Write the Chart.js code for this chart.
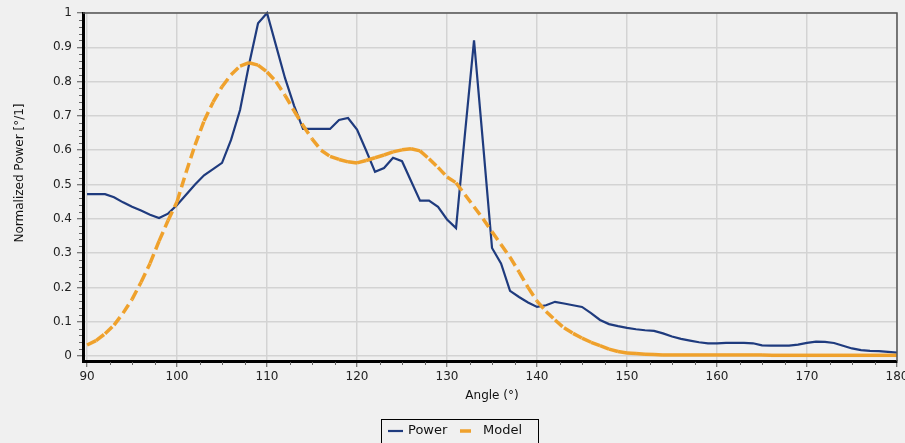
<!DOCTYPE html>
<html>
<head>
<meta charset="utf-8">
<script src="https://cdn.jsdelivr.net/npm/chart.js@4"></script>
<style>
    html, body { margin: 0; padding: 0; background: #f0f0f0; }
    #wrap { width: 905px; height: 443px; }
</style>
</head>
<body>
<div id="wrap"><canvas id="chart" width="905" height="443"></canvas></div>
<script>
// Angles (deg), one point per degree
const angles = [
    90, 91, 92, 93, 94, 95, 96, 97, 98, 99,
    100, 101, 102, 103, 104, 105, 106, 107, 108, 109,
    110, 111, 112, 113, 114, 115, 116, 117, 118, 119,
    120, 121, 122, 123, 124, 125, 126, 127, 128, 129,
    130, 131, 132, 133, 134, 135, 136, 137, 138, 139,
    140, 141, 142, 143, 144, 145, 146, 147, 148, 149,
    150, 151, 152, 153, 154, 155, 156, 157, 158, 159,
    160, 161, 162, 163, 164, 165, 166, 167, 168, 169,
    170, 171, 172, 173, 174, 175, 176, 177, 178, 179,
    180
];

// Measured power (normalized)
const power = [
    0.472, 0.472, 0.472, 0.463, 0.448, 0.435, 0.424, 0.412, 0.402, 0.415,
    0.44, 0.47, 0.50, 0.527, 0.545, 0.563, 0.63, 0.717, 0.85, 0.97,
    1.0, 0.905, 0.81, 0.73, 0.662, 0.662, 0.662, 0.662, 0.688, 0.694,
    0.66, 0.60, 0.537, 0.548, 0.578, 0.568, 0.51, 0.453, 0.453, 0.435,
    0.398, 0.373, 0.65, 0.92, 0.62, 0.315, 0.27, 0.19, 0.172, 0.156,
    0.143, 0.148, 0.158, 0.153, 0.148, 0.143, 0.125, 0.105, 0.093, 0.087,
    0.082, 0.078, 0.075, 0.073, 0.066, 0.057, 0.05, 0.045, 0.04, 0.037,
    0.037, 0.038, 0.038, 0.038, 0.037, 0.031, 0.03, 0.03, 0.03, 0.033,
    0.038, 0.042, 0.041, 0.038, 0.03, 0.022, 0.017, 0.015, 0.014, 0.012,
    0.01
];

// Fitted model
const model = [
    0.032, 0.045, 0.065, 0.09, 0.125, 0.165, 0.215, 0.27, 0.335, 0.395,
    0.45, 0.535, 0.615, 0.685, 0.74, 0.785, 0.82, 0.845, 0.855, 0.848,
    0.828, 0.80, 0.76, 0.715, 0.672, 0.633, 0.60, 0.582, 0.573, 0.566,
    0.563, 0.57, 0.578, 0.586, 0.595, 0.601, 0.604, 0.598, 0.575, 0.55,
    0.522, 0.505, 0.47, 0.435, 0.40, 0.362, 0.325, 0.288, 0.245, 0.2,
    0.16, 0.13, 0.105, 0.082, 0.066, 0.052, 0.04, 0.03, 0.02, 0.013,
    0.009, 0.007, 0.005, 0.004, 0.003, 0.003, 0.003, 0.003, 0.003, 0.003,
    0.003, 0.003, 0.003, 0.003, 0.003, 0.003, 0.002, 0.002, 0.002, 0.002,
    0.002, 0.002, 0.002, 0.002, 0.002, 0.002, 0.002, 0.002, 0.002, 0.002,
    0.002
];

const xTicks = [90, 100, 110, 120, 130, 140, 150, 160, 170, 180];
const yTicks = [0, 0.1, 0.2, 0.3, 0.4, 0.5, 0.6, 0.7, 0.8, 0.9, 1];
const xMinorTicks = [92.5, 95, 97.5, 102.5, 105, 107.5, 112.5, 115, 117.5, 122.5, 125, 127.5,
    132.5, 135, 137.5, 142.5, 145, 147.5, 152.5, 155, 157.5, 162.5, 165, 167.5, 172.5, 175, 177.5];
const yMinorTicks = [0.02, 0.04, 0.06, 0.08, 0.12, 0.14, 0.16, 0.18, 0.22, 0.24, 0.26, 0.28,
    0.32, 0.34, 0.36, 0.38, 0.42, 0.44, 0.46, 0.48, 0.52, 0.54, 0.56, 0.58, 0.62, 0.64, 0.66, 0.68,
    0.72, 0.74, 0.76, 0.78, 0.82, 0.84, 0.86, 0.88, 0.92, 0.94, 0.96, 0.98];

const BLUE = '#1f3b7e';
const ORANGE = '#efa12c';
const FONT = "'DejaVu Sans', Verdana, sans-serif";

Chart.defaults.font.family = FONT;

// background, frame, minor ticks, axis titles and legend box
const decor = {
    id: 'decor',
    beforeDraw(chart) {
        const ctx = chart.ctx;
        ctx.save();
        ctx.fillStyle = '#f0f0f0';
        ctx.fillRect(0, 0, chart.width, chart.height);
        ctx.restore();
    },
    afterDraw(chart) {
        const ctx = chart.ctx;
        const a = chart.chartArea;
        const xs = chart.scales.x;
        const ys = chart.scales.y;
        ctx.save();

        // top / right frame
        ctx.strokeStyle = '#555';
        ctx.lineWidth = 1.5;
        ctx.beginPath();
        ctx.moveTo(a.left, a.top);
        ctx.lineTo(a.right, a.top);
        ctx.lineTo(a.right, a.bottom);
        ctx.stroke();

        // minor ticks
        ctx.strokeStyle = '#666';
        ctx.lineWidth = 1;
        ctx.beginPath();
        xMinorTicks.forEach(v => {
            const px = Math.round(xs.getPixelForValue(v)) + 0.5;
            ctx.moveTo(px, a.bottom + 1);
            ctx.lineTo(px, a.bottom + 4);
        });
        yMinorTicks.forEach(v => {
            const py = Math.round(ys.getPixelForValue(v)) + 0.5;
            ctx.moveTo(a.left - 1, py);
            ctx.lineTo(a.left - 4, py);
        });
        ctx.stroke();

        // axis titles
        ctx.fillStyle = '#111';
        ctx.font = '12px ' + FONT;
        ctx.textAlign = 'center';
        ctx.textBaseline = 'middle';
        ctx.fillText('Angle (°)', 492, 396);
        ctx.save();
        ctx.translate(20, 173);
        ctx.rotate(-Math.PI / 2);
        ctx.fillText('Normalized Power [°/1]', 0, 0);
        ctx.restore();

        // legend
        const ly = 431;
        ctx.strokeStyle = '#000';
        ctx.lineWidth = 1;
        ctx.strokeRect(381.5, 419.5, 157, 30);
        ctx.font = '13px ' + FONT;
        ctx.textAlign = 'left';
        const items = [
            { ds: chart.data.datasets[0], x0: 388, x1: 403, tx: 408 },
            { ds: chart.data.datasets[1], x0: 460, x1: 471, tx: 483 }
        ];
        items.forEach(it => {
            ctx.strokeStyle = it.ds.borderColor;
            ctx.lineWidth = it.ds.borderWidth;
            ctx.beginPath();
            ctx.moveTo(it.x0, ly);
            ctx.lineTo(it.x1, ly);
            ctx.stroke();
            ctx.fillStyle = '#111';
            ctx.fillText(it.ds.label, it.tx, ly);
        });
        ctx.restore();
    }
};

const ctx = document.getElementById('chart').getContext('2d');
const chart = new Chart(ctx, {
    type: 'line',
    data: {
        datasets: [
            {
                label: 'Power',
                data: angles.map((a, i) => ({ x: a, y: power[i] })),
                borderColor: BLUE,
                borderWidth: 2.2,
                pointRadius: 0,
                tension: 0,
                order: 1,
                clip: 6
            },
            {
                label: 'Model',
                data: angles.map((a, i) => ({ x: a, y: model[i] })),
                borderColor: ORANGE,
                borderWidth: 3.5,
                borderDash: [10, 5],
                pointRadius: 0,
                tension: 0,
                order: 0,
                clip: 6,
                // restart dash pattern on each segment
                segment: {
                    borderDashOffset: c => (c.p0DataIndex % 2) * 0.01
                }
            }
        ]
    },
    options: {
        responsive: false,
        animation: false,
        events: [],
        layout: { padding: { top: 13, right: 8, left: 0, bottom: 0 } },
        plugins: {
            legend: { display: false },
            tooltip: { enabled: false }
        },
        scales: {
            x: {
                type: 'linear',
                min: 89.55,
                max: 180,
                afterBuildTicks: s => { s.ticks = xTicks.map(v => ({ value: v })); },
                afterFit: s => { s.height = 82; s.paddingLeft = 0; s.paddingRight = 0; },
                grid: { color: '#d3d3d3', lineWidth: 1.5, tickLength: 6, tickColor: '#555', tickWidth: 1 },
                border: { color: '#000', width: 3 },
                ticks: {
                    color: '#222',
                    font: { size: 12 },
                    padding: 3,
                    maxRotation: 0,
                    autoSkip: false,
                    callback: v => String(v)
                }
            },
            y: {
                min: -0.0146,
                max: 1,
                afterBuildTicks: s => { s.ticks = yTicks.map(v => ({ value: v })); },
                afterFit: s => { s.width = 83; s.paddingTop = 0; s.paddingBottom = 0; },
                grid: { color: '#d3d3d3', lineWidth: 1.5, tickLength: 6, tickColor: '#555', tickWidth: 1 },
                border: { color: '#000', width: 3 },
                ticks: {
                    color: '#222',
                    font: { size: 12 },
                    padding: 5,
                    autoSkip: false,
                    callback: v => String(v)
                }
            }
        }
    },
    plugins: [decor]
});
</script>
</body>
</html>
